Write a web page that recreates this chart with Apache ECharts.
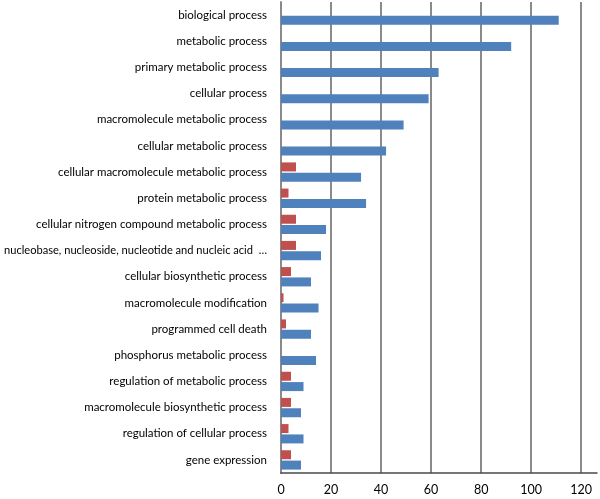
<!DOCTYPE html>
<html>
<head>
<meta charset="utf-8">
<script src="https://cdn.jsdelivr.net/npm/echarts@6/dist/echarts.min.js"></script>
<style>html,body{margin:0;padding:0;background:#fff}#c{width:600px;height:499px}</style>
</head>
<body>
<div id="c"></div>
<script>
const categories = [
  "biological process",
  "metabolic process",
  "primary metabolic process",
  "cellular process",
  "macromolecule metabolic process",
  "cellular metabolic process",
  "cellular macromolecule metabolic process",
  "protein metabolic process",
  "cellular nitrogen compound metabolic process",
  "nucleobase, nucleoside, nucleotide and nucleic acid  …",
  "cellular biosynthetic process",
  "macromolecule modification",
  "programmed cell death",
  "phosphorus metabolic process",
  "regulation of metabolic process",
  "macromolecule biosynthetic process",
  "regulation of cellular process",
  "gene expression"
];
const redValues  = [0, 0, 0, 0, 0, 0, 6, 3, 6, 6, 4, 1, 2, 0, 4, 4, 3, 4];
const blueValues = [111, 92, 63, 59, 49, 42, 32, 34, 18, 16, 12, 15, 12, 14, 9, 8, 9, 8];
const xTicks = [0, 20, 40, 60, 80, 100, 120];

const catData = categories.map(c => c.length > 50
  ? {value: c, textStyle: {fontSize: 11.1}}
  : c);

const chart = echarts.init(document.getElementById('c'), null, {renderer: 'canvas'});
chart.setOption({
  animation: false,
  grid: {left: 281, right: 3, top: 2, bottom: 26, containLabel: false, outerBoundsMode: 'none'},
  xAxis: {
    type: 'value', min: 0, max: 126.3, interval: 20,
    axisLine: {show: true, lineStyle: {color: '#4a4a4a', width: 1.5}},
    axisTick: {show: false},
    axisLabel: {
      showMaxLabel: false, margin: 10,
      fontFamily: 'Lato', fontSize: 12.5, color: '#000',
      formatter: v => xTicks.indexOf(v) >= 0 ? String(v) : ''
    },
    splitLine: {show: true, showMaxLine: false, lineStyle: {color: '#8a8a8a', width: 2}}
  },
  yAxis: {
    type: 'category', data: catData, inverse: true,
    axisLine: {show: true, lineStyle: {color: '#8a8a8a', width: 2}},
    axisTick: {show: false},
    axisLabel: {margin: 14, fontFamily: 'Lato', fontSize: 11.5, color: '#000', interval: 0}
  },
  series: [
    {type: 'bar', data: redValues, barWidth: 9, barGap: '15%', itemStyle: {color: '#C0504D'}},
    {type: 'bar', data: blueValues, barWidth: 9, barGap: '15%', itemStyle: {color: '#4F81BD'}}
  ]
});
</script>
</body>
</html>
